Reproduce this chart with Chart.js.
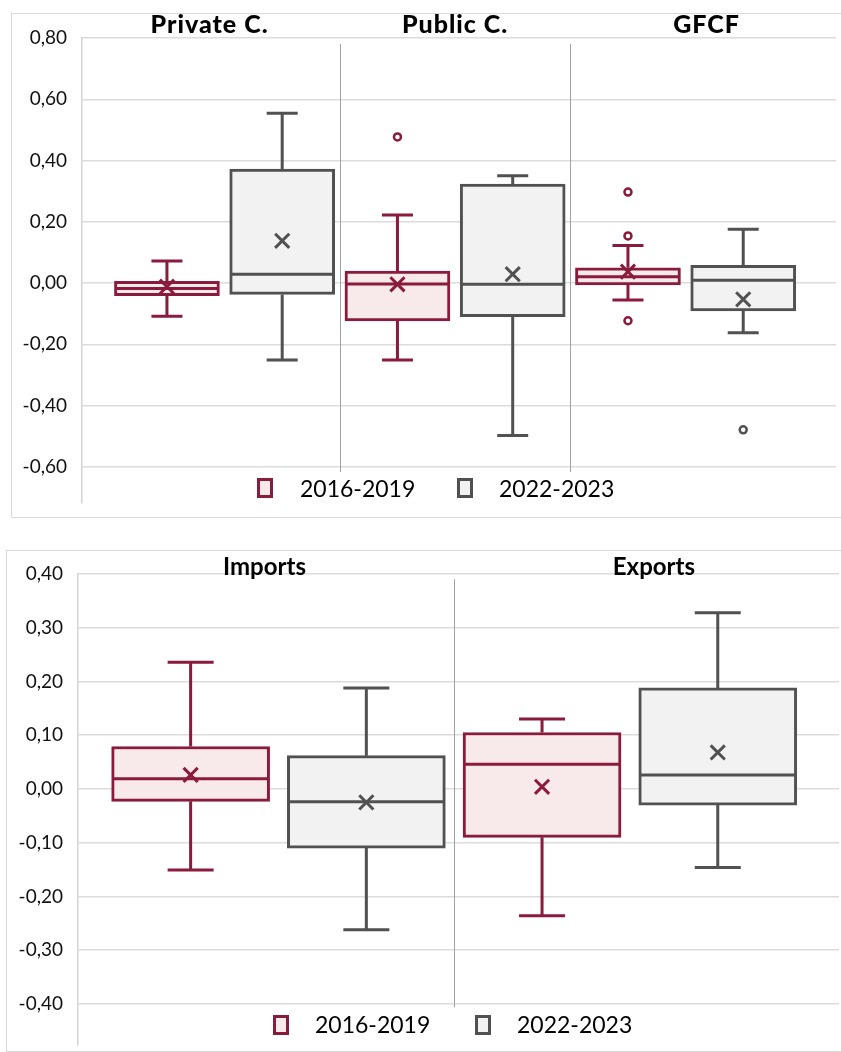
<!DOCTYPE html>
<html>
<head>
<meta charset="utf-8">
<script src="https://cdn.jsdelivr.net/npm/chart.js@4.4.0/dist/chart.umd.min.js"></script>
<style>
html, body { margin: 0; padding: 0; background: #fff; width: 841px; height: 1052px; overflow: hidden; }
.panel { position: absolute; border: 1px solid #d9d9d9; background: #fff; }
#p1 { left: 11px; top: 13px; width: 840px; height: 503px; }
#p2 { left: 6px; top: 550px; width: 845px; height: 500px; }
.wrap { position: absolute; left: 0; top: 0; }
</style>
</head>
<body>
<div class="panel" id="p1"><div class="wrap" style="width:837px;height:503px"><canvas id="c1"></canvas></div></div>
<div class="panel" id="p2"><div class="wrap" style="width:845px;height:507px"><canvas id="c2"></canvas></div></div>
<script>
// ---------- DATA ----------
const topCategories = ['Private C.', 'Public C.', 'GFCF'];
const bottomCategories = ['Imports', 'Exports'];
const seriesNames = ['2016-2019', '2022-2023'];
const topTicks = [0.8, 0.6, 0.4, 0.2, 0, -0.2, -0.4, -0.6];
const bottomTicks = [0.4, 0.3, 0.2, 0.1, 0, -0.1, -0.2, -0.3, -0.4];

// Top chart – 2016-2019
const topA_min = [-0.108, -0.251, -0.055];
const topA_q1 = [-0.041, -0.124, -0.006];
const topA_median = [-0.018, -0.003, 0.021];
const topA_q3 = [0.006, 0.039, 0.050];
const topA_max = [0.072, 0.222, 0.123];
const topA_mean = [-0.012, -0.004, 0.037];
const topA_outliers = [[], [0.477], [0.297, 0.154, -0.123]];
// Top chart – 2022-2023
const topB_min = [-0.251, -0.498, -0.162];
const topB_q1 = [-0.037, -0.110, -0.091];
const topB_median = [0.029, -0.004, 0.009];
const topB_q3 = [0.372, 0.323, 0.058];
const topB_max = [0.554, 0.350, 0.176];
const topB_mean = [0.138, 0.029, -0.053];
const topB_outliers = [[], [], [-0.479]];

// Bottom chart – 2016-2019
const botA_min = [-0.151, -0.236];
const botA_q1 = [-0.023, -0.090];
const botA_median = [0.019, 0.046];
const botA_q3 = [0.079, 0.105];
const botA_max = [0.236, 0.130];
const botA_mean = [0.026, 0.004];
const botA_outliers = [[], []];
// Bottom chart – 2022-2023
const botB_min = [-0.262, -0.146];
const botB_q1 = [-0.110, -0.030];
const botB_median = [-0.024, 0.026];
const botB_q3 = [0.062, 0.188];
const botB_max = [0.188, 0.328];
const botB_mean = [-0.025, 0.068];
const botB_outliers = [[], []];

// ---------- STYLE ----------
const RED = '#8a1b3d', RED_FILL = '#f8e9eb';
const GRAY = '#515151', GRAY_FILL = '#f2f2f2';
const FONT = 'Lato, "Open Sans", sans-serif';

const boxPlugin = {
  id: 'boxExtras',
  afterDatasetDraw(chart, args, opts) {
    const ds = chart.data.datasets[args.index];
    if (!ds.boxStats) return;
    const y = chart.scales.y, ctx = chart.ctx;
    ctx.save();
    ctx.strokeStyle = ds.borderColor;
    ctx.lineWidth = opts.lineW;
    ctx.lineCap = 'butt';
    args.meta.data.forEach((el, j) => {
      const x = el.x, half = el.width / 2, cap = opts.capW / 2;
      const yMax = y.getPixelForValue(ds.boxStats.max[j]);
      const yMin = y.getPixelForValue(ds.boxStats.min[j]);
      const yMed = y.getPixelForValue(ds.boxStats.median[j]);
      const yQ3 = y.getPixelForValue(ds.data[j].y[1]);
      const yQ1 = y.getPixelForValue(ds.data[j].y[0]);
      ctx.beginPath();
      ctx.moveTo(x, yQ3); ctx.lineTo(x, yMax);
      ctx.moveTo(x - cap, yMax); ctx.lineTo(x + cap, yMax);
      ctx.moveTo(x, yQ1); ctx.lineTo(x, yMin);
      ctx.moveTo(x - cap, yMin); ctx.lineTo(x + cap, yMin);
      ctx.moveTo(x - half + 1, yMed); ctx.lineTo(x + half - 1, yMed);
      ctx.stroke();
    });
    ctx.restore();
  }
};

const decorPlugin = {
  id: 'decor',
  beforeDatasetsDraw(chart, args, opts) {
    const x = chart.scales.x, y = chart.scales.y, ctx = chart.ctx;
    ctx.save();
    ctx.strokeStyle = '#a0a0a0';
    ctx.lineWidth = 1;
    opts.separators.forEach(v => {
      const px = Math.round(x.getPixelForValue(v)) + 0.5;
      ctx.beginPath();
      ctx.moveTo(px, y.getPixelForValue(opts.sepTop));
      ctx.lineTo(px, y.getPixelForValue(opts.sepBottom));
      ctx.stroke();
    });
    ctx.restore();
  },
  afterDraw(chart, args, opts) {
    const x = chart.scales.x, ctx = chart.ctx;
    ctx.save();
    // category titles
    ctx.fillStyle = '#000';
    ctx.font = opts.titleFont;
    ctx.textAlign = 'center';
    ctx.textBaseline = 'alphabetic';
    if ('letterSpacing' in ctx) ctx.letterSpacing = opts.titleSpacing;
    opts.categories.forEach((c, i) => {
      const cx = x.getPixelForValue(i * 2 + 1.5) + opts.titleOffsets[i];
      ctx.fillText(c, cx, opts.titleBaseline);
    });
    if ('letterSpacing' in ctx) ctx.letterSpacing = '0px';
    // legend
    const bars = chart.data.datasets.filter(d => d.boxStats);
    ctx.font = '23px ' + FONT;
    ctx.textAlign = 'left';
    bars.forEach((d, i) => {
      const sx = opts.legend.squareX[i], sy = opts.legend.squareY;
      ctx.fillStyle = d.backgroundColor;
      ctx.fillRect(sx, sy, 16, 20);
      ctx.strokeStyle = d.borderColor;
      ctx.lineWidth = 3;
      ctx.strokeRect(sx + 1.5, sy + 1.5, 13, 17);
      ctx.fillStyle = '#000';
      ctx.fillText(d.label, opts.legend.textX[i], opts.legend.baseline);
    });
    ctx.restore();
  }
};

function buildChart(canvasId, o) {
  const datasets = [];
  o.series.forEach((s, si) => {
    datasets.push({
      type: 'bar', label: s.label, order: 2, grouped: false,
      data: o.categories.map((c, i) => ({ x: i * 2 + 1 + si, y: [s.q1[i], s.q3[i]] })),
      backgroundColor: s.fill, borderColor: s.color, borderWidth: 3, borderSkipped: false,
      barThickness: o.boxW,
      boxStats: { min: s.min, max: s.max, median: s.median }
    });
  });
  o.series.forEach((s, si) => {
    datasets.push({
      type: 'scatter', label: s.label + ' mean', order: 1,
      data: o.categories.map((c, i) => ({ x: i * 2 + 1 + si, y: s.mean[i] })),
      pointStyle: 'crossRot', radius: 10, borderColor: s.color, backgroundColor: s.color, borderWidth: 3
    });
    const outl = [];
    s.outliers.forEach((arr, i) => arr.forEach(v => outl.push({ x: i * 2 + 1 + si, y: v })));
    datasets.push({
      type: 'scatter', label: s.label + ' outliers', order: 1, data: outl,
      pointStyle: 'circle', radius: 3.5, borderColor: s.color, backgroundColor: '#fff', borderWidth: 2.5
    });
  });
  return new Chart(document.getElementById(canvasId), {
    type: 'bar',
    data: { datasets },
    plugins: [boxPlugin, decorPlugin],
    options: {
      responsive: true, maintainAspectRatio: false, animation: false,
      layout: { padding: o.padding },
      scales: {
        x: { type: 'linear', display: false, offset: false, min: o.xMin, max: o.xMax },
        y: {
          min: o.yMin, max: o.yMax,
          afterBuildTicks(scale) { scale.ticks = o.ticks.map(v => ({ value: v })); },
          afterFit(scale) { scale.width = o.axisW; scale.paddingTop = 0; scale.paddingBottom = 0; },
          grid: { color: '#dcdcdc', lineWidth: 1.5, drawTicks: false },
          border: { color: '#d4d4d4', width: 1.5 },
          ticks: {
            padding: 15, color: '#111',
            font: { family: FONT, size: 19 },
            callback: v => v.toFixed(2).replace('.', ',')
          }
        }
      },
      plugins: {
        legend: { display: false }, tooltip: { enabled: false },
        boxExtras: { lineW: 3, capW: o.capW },
        decor: {
          categories: o.categories, titleOffsets: o.titleOffsets, titleBaseline: o.titleBaseline,
          titleFont: o.titleFont, titleSpacing: o.titleSpacing,
          separators: o.separators, sepTop: o.sepTop, sepBottom: o.sepBottom,
          legend: o.legend
        }
      }
    }
  });
}

buildChart('c1', {
  categories: topCategories, ticks: topTicks,
  yMin: -0.718, yMax: 0.8, xMin: 0.263, xMax: 6.805,
  padding: { top: 24, bottom: 14, left: 0, right: 12 }, axisW: 70,
  boxW: 105, capW: 31,
  titleOffsets: [-15, 0, 21], titleBaseline: 19, titleFont: '900 25px ' + FONT, titleSpacing: '1px',
  separators: [2.5, 4.5], sepTop: 0.78, sepBottom: -0.617,
  legend: { squareX: [245, 445], squareY: 464, textX: [288, 487], baseline: 483 },
  series: [
    { label: seriesNames[0], color: RED, fill: RED_FILL, min: topA_min, q1: topA_q1, median: topA_median, q3: topA_q3, max: topA_max, mean: topA_mean, outliers: topA_outliers },
    { label: seriesNames[1], color: GRAY, fill: GRAY_FILL, min: topB_min, q1: topB_q1, median: topB_median, q3: topB_q3, max: topB_max, mean: topB_mean, outliers: topB_outliers }
  ]
});

buildChart('c2', {
  categories: bottomCategories, ticks: bottomTicks,
  yMin: -0.4765, yMax: 0.4, xMin: 0.359, xMax: 4.69,
  padding: { top: 23, bottom: 13, left: 0, right: 12 }, axisW: 71,
  boxW: 158, capW: 46,
  titleOffsets: [-14, 24], titleBaseline: 24, titleFont: 'bold 24px ' + FONT, titleSpacing: '0px',
  separators: [2.5], sepTop: 0.39, sepBottom: -0.406,
  legend: { squareX: [266, 468], squareY: 464, textX: [308, 510], baseline: 482 },
  series: [
    { label: seriesNames[0], color: RED, fill: RED_FILL, min: botA_min, q1: botA_q1, median: botA_median, q3: botA_q3, max: botA_max, mean: botA_mean, outliers: botA_outliers },
    { label: seriesNames[1], color: GRAY, fill: GRAY_FILL, min: botB_min, q1: botB_q1, median: botB_median, q3: botB_q3, max: botB_max, mean: botB_mean, outliers: botB_outliers }
  ]
});
</script>
</body>
</html>
